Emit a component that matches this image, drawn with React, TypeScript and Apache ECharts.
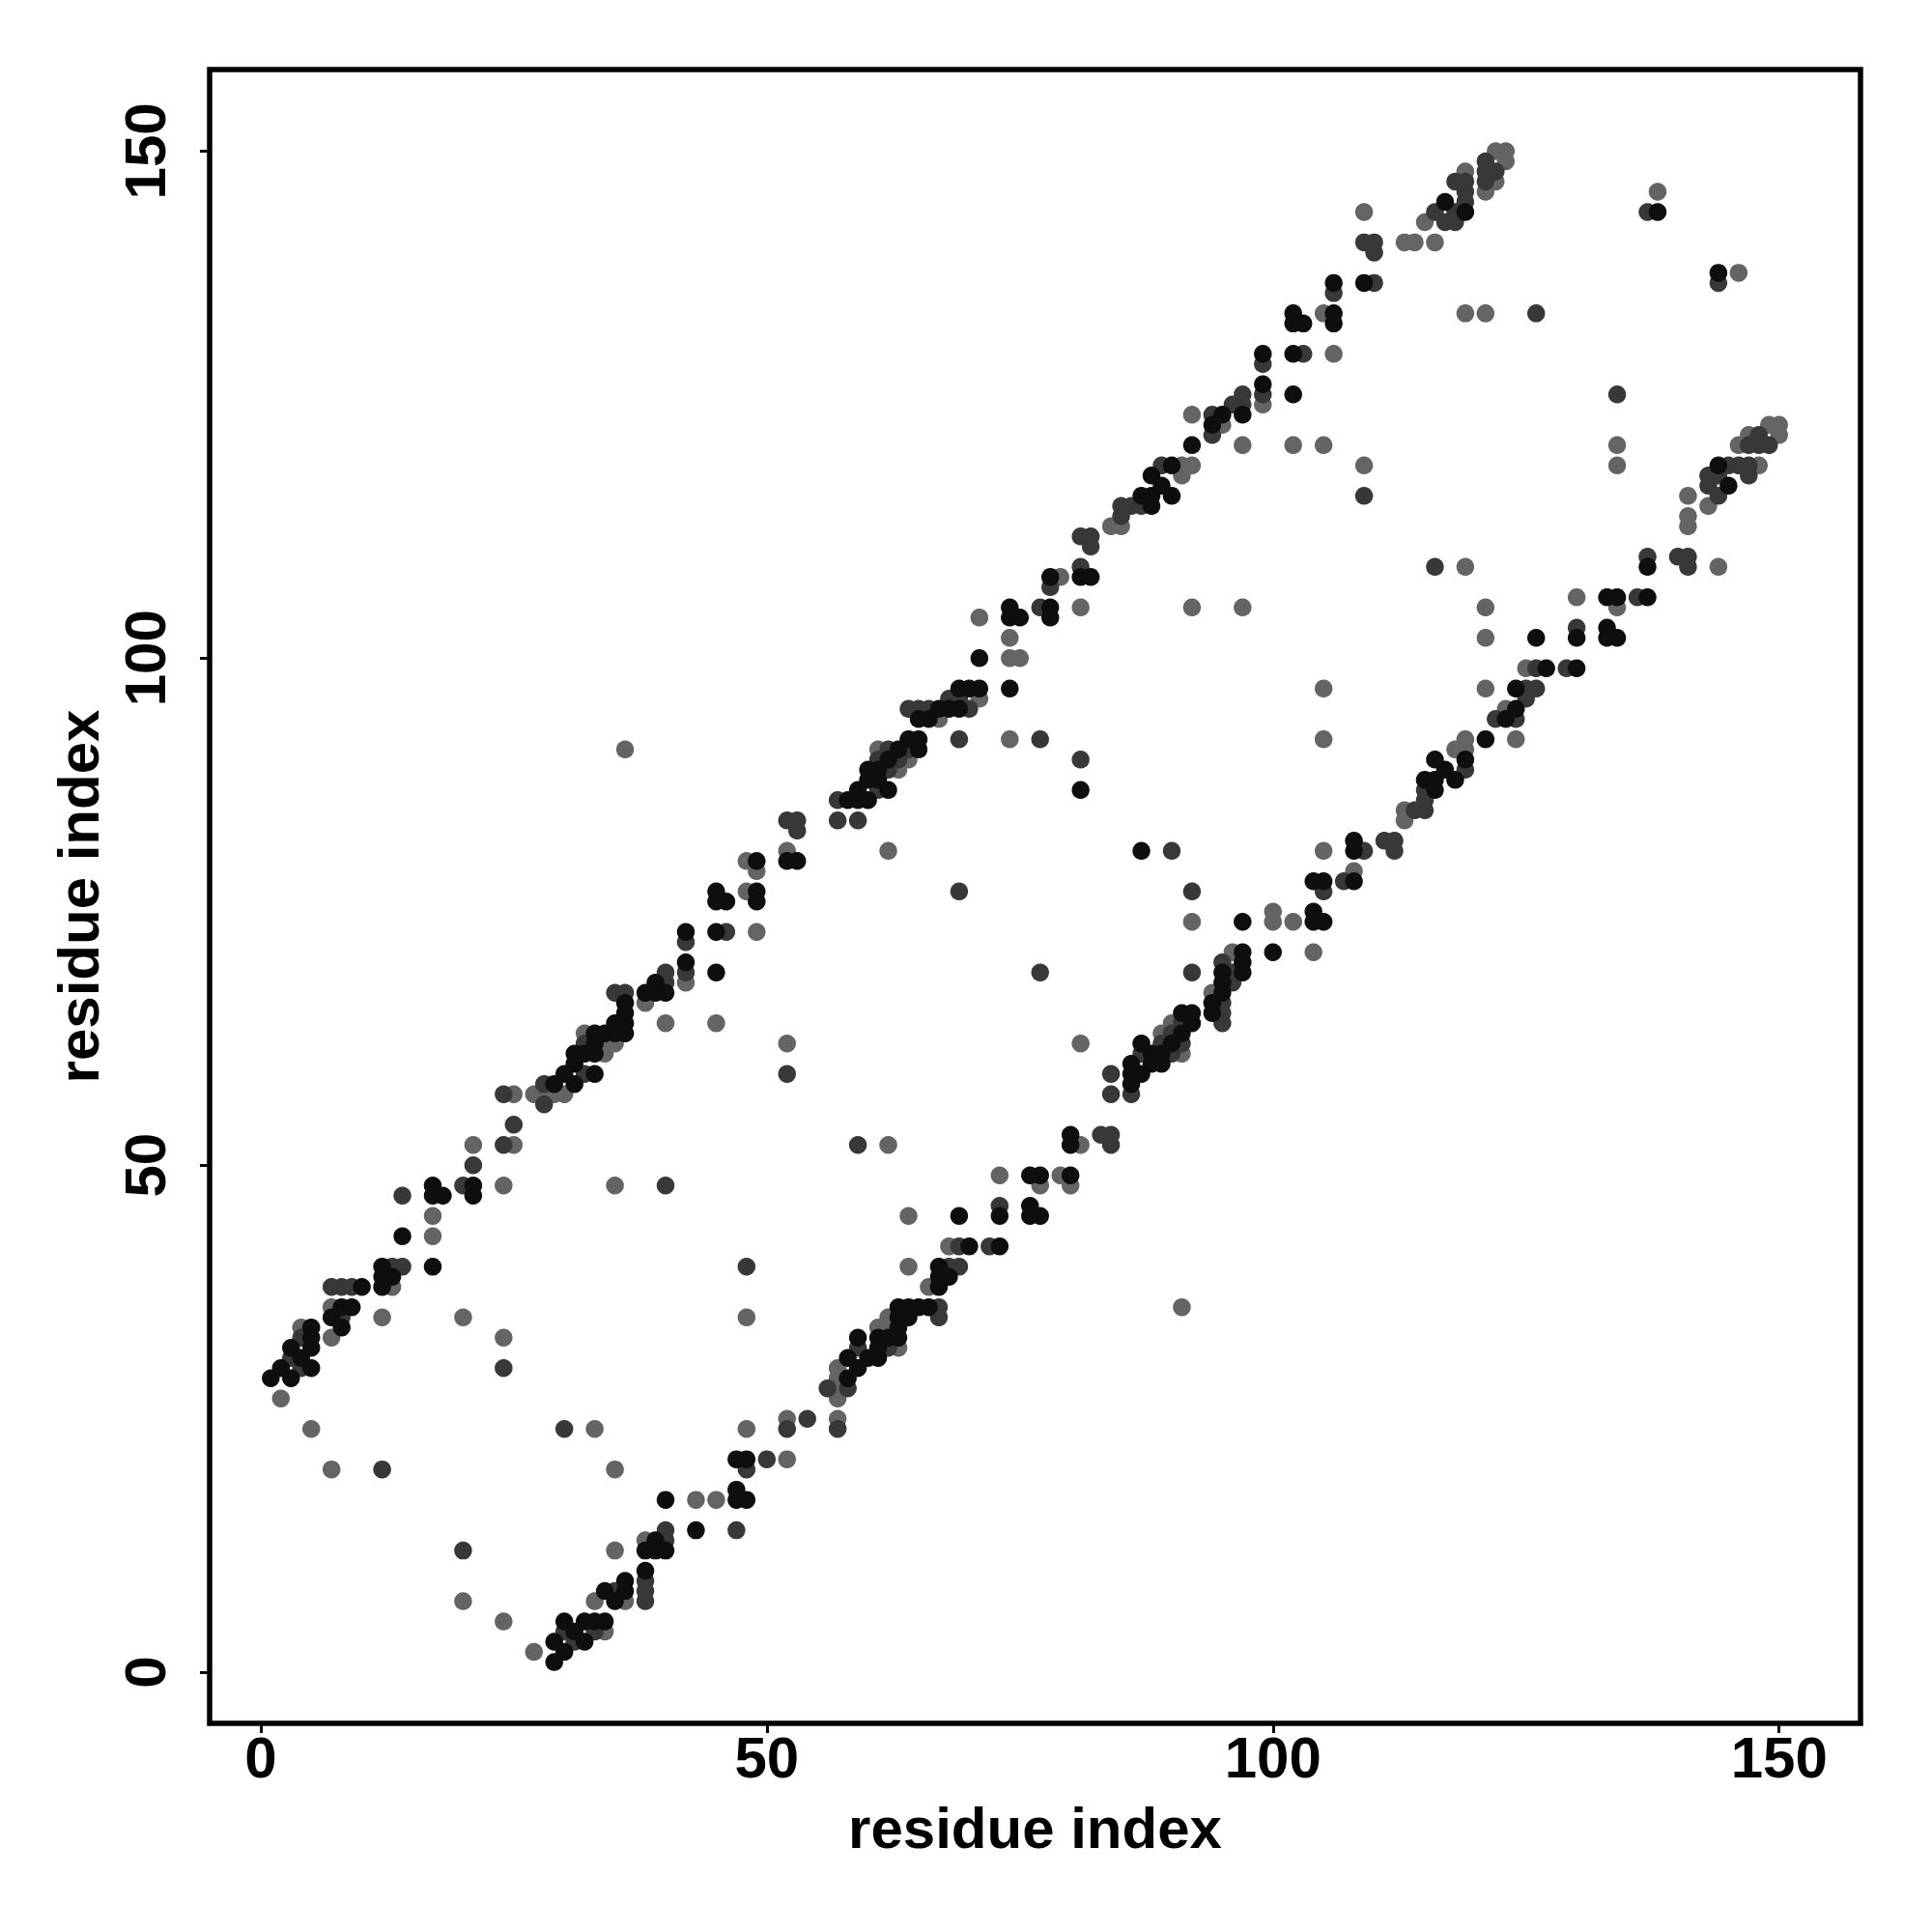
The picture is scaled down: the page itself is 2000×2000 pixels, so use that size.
import React, { useEffect, useRef } from "react";
import * as echarts from "echarts";

const xTicks = [0, 50, 100, 150];
const yTicks = [0, 50, 100, 150];
const xTitle = "residue index";
const yTitle = "residue index";

// contacts above the diagonal (x < y)
const blackUpper = [[1,29],[2,30],[3,29],[3,32],[4,31],[5,30],[5,32],[5,33],[5,34],[7,35],[8,34],[8,36],[9,36],[10,38],[12,38],[12,39],[12,40],[13,39],[14,43],[17,40],[17,47],[17,48],[18,47],[21,47],[21,48],[29,58],[30,59],[31,58],[31,60],[31,61],[32,61],[33,59],[33,61],[33,62],[33,63],[34,63],[35,63],[35,64],[36,63],[36,64],[36,65],[36,66],[38,67],[39,67],[39,68],[40,67],[42,70],[42,73],[45,69],[45,73],[45,76],[45,77],[46,76],[49,76],[49,77],[49,80],[52,80],[53,80],[58,86],[59,86],[59,87],[60,86],[60,88],[60,89],[61,88],[61,89],[62,87],[62,90],[63,91],[64,92],[65,91],[65,92],[65,94],[66,94],[67,95],[68,95],[69,95],[69,97],[70,97],[71,97],[71,100],[74,97],[74,104],[74,105],[75,104],[78,104],[78,105],[78,108],[81,87],[81,108],[82,108],[87,116],[88,115],[88,116],[88,118],[89,117],[90,116],[90,119],[92,121],[94,123],[95,124],[97,124],[99,127],[99,130],[102,126],[102,130],[102,133],[102,134],[103,133],[106,133],[106,134],[106,137],[109,137],[117,145],[119,144],[138,144]];
const darkUpper = [[3,31],[4,30],[4,33],[7,38],[8,35],[8,38],[9,38],[12,20],[13,40],[14,40],[14,47],[20,48],[21,50],[24,30],[24,52],[24,57],[25,54],[28,56],[28,58],[32,59],[32,62],[35,67],[36,67],[40,48],[40,68],[40,69],[42,69],[42,72],[46,73],[52,59],[52,84],[53,83],[53,84],[57,84],[57,86],[59,84],[61,87],[61,90],[62,89],[62,91],[63,90],[64,91],[64,95],[65,95],[66,95],[68,96],[69,77],[69,92],[69,96],[70,95],[77,92],[77,105],[78,107],[81,90],[81,109],[81,112],[82,111],[82,112],[85,114],[85,115],[86,115],[87,115],[89,119],[94,122],[94,124],[96,125],[97,125],[97,126],[99,126],[99,129],[103,130],[106,136],[109,116],[109,141],[110,137],[110,140],[110,141],[116,144],[117,143],[118,143],[118,144],[118,147],[119,145],[119,146],[119,147],[121,147],[121,148],[121,149],[122,148],[126,134],[137,144]];
const grayUpper = [[2,27],[4,34],[5,24],[7,20],[7,33],[7,36],[12,35],[13,38],[17,43],[17,45],[20,35],[21,52],[24,33],[24,48],[25,52],[25,57],[27,57],[28,57],[29,57],[30,57],[32,63],[34,61],[34,62],[35,48],[35,62],[36,91],[38,66],[40,64],[42,68],[45,64],[48,77],[48,80],[49,73],[49,79],[52,62],[52,81],[61,91],[62,81],[63,89],[64,90],[67,94],[71,96],[71,104],[74,92],[74,100],[74,102],[75,100],[79,108],[81,105],[84,113],[85,113],[91,118],[91,119],[92,105],[92,119],[92,124],[95,123],[97,105],[97,121],[99,125],[102,121],[105,121],[105,134],[106,130],[109,119],[109,144],[113,141],[114,141],[115,143],[116,141],[119,134],[119,148],[121,134],[121,146],[122,147],[122,150],[123,149],[123,150],[138,146]];

// contacts below the diagonal (x > y)
const blackLower = [[29,1],[30,2],[29,3],[32,3],[31,4],[30,5],[32,5],[33,5],[34,5],[35,7],[34,8],[36,8],[36,9],[38,10],[38,12],[39,12],[40,12],[39,13],[43,14],[40,17],[47,17],[48,17],[47,18],[47,21],[48,21],[58,29],[59,30],[58,31],[60,31],[61,31],[61,32],[59,33],[61,33],[62,33],[63,33],[63,34],[63,35],[64,35],[63,36],[64,36],[65,36],[66,36],[67,38],[67,39],[68,39],[67,40],[70,42],[73,42],[69,45],[73,45],[76,45],[77,45],[76,46],[76,49],[77,49],[80,49],[80,52],[80,53],[86,58],[86,59],[87,59],[86,60],[88,60],[89,60],[88,61],[89,61],[87,62],[90,62],[91,63],[92,64],[91,65],[92,65],[94,65],[94,66],[95,67],[95,68],[95,69],[97,69],[97,70],[97,71],[100,71],[97,74],[104,74],[105,74],[104,75],[104,78],[105,78],[108,78],[87,81],[108,81],[108,82],[116,87],[115,88],[116,88],[118,88],[117,89],[116,90],[119,90],[121,92],[123,94],[124,95],[124,97],[127,99],[130,99],[126,102],[130,102],[133,102],[134,102],[133,103],[133,106],[134,106],[137,106],[137,109],[145,117],[144,119],[144,138]];
const darkLower = [[31,3],[30,4],[33,4],[38,7],[35,8],[38,8],[38,9],[20,12],[40,13],[40,14],[47,14],[48,20],[50,21],[30,24],[52,24],[57,24],[54,25],[56,28],[58,28],[59,32],[62,32],[67,35],[67,36],[48,40],[68,40],[69,40],[69,42],[72,42],[73,46],[59,52],[84,52],[83,53],[84,53],[84,57],[86,57],[84,59],[87,61],[90,61],[89,62],[91,62],[90,63],[91,64],[95,64],[95,65],[95,66],[96,68],[77,69],[92,69],[96,69],[95,70],[92,77],[105,77],[107,78],[90,81],[109,81],[112,81],[111,82],[112,82],[114,85],[115,85],[115,86],[115,87],[119,89],[122,94],[124,94],[125,96],[125,97],[126,97],[126,99],[129,99],[130,103],[136,106],[116,109],[141,109],[137,110],[140,110],[141,110],[144,116],[143,117],[143,118],[144,118],[147,118],[145,119],[146,119],[147,119],[147,121],[148,121],[149,121],[148,122],[134,126],[144,137]];
const grayLower = [[27,2],[34,4],[24,5],[20,7],[33,7],[36,7],[35,12],[38,13],[43,17],[45,17],[35,20],[52,21],[33,24],[48,24],[52,25],[57,25],[57,27],[57,28],[57,29],[57,30],[63,32],[61,34],[62,34],[48,35],[62,35],[91,36],[66,38],[64,40],[68,42],[64,45],[77,48],[80,48],[73,49],[79,49],[62,52],[81,52],[91,61],[81,62],[89,63],[90,64],[94,67],[96,71],[104,71],[92,74],[100,74],[102,74],[100,75],[108,79],[105,81],[113,84],[113,85],[118,91],[119,91],[105,92],[119,92],[124,92],[123,95],[105,97],[121,97],[125,99],[121,102],[121,105],[134,105],[130,106],[119,109],[144,109],[141,113],[141,114],[143,115],[141,116],[134,119],[148,119],[134,121],[146,121],[147,122],[150,122],[149,123],[150,123],[146,138]];

const FONT = "'Liberation Sans', Arial, Helvetica, sans-serif";

export default function App() {
  const ref = useRef<HTMLDivElement>(null);
  useEffect(() => {
    document.body.style.margin = "0";
    const chart = echarts.init(ref.current as HTMLDivElement, null, { renderer: "svg" });
    const mk = (name: string, data: number[][], color: string) => ({
      type: "scatter",
      name,
      data,
      symbol: "circle",
      symbolSize: 18.5,
      itemStyle: { color, opacity: 1 },
      silent: true,
    });
    const labelStyle = { fontSize: 60, fontWeight: "bold", fontFamily: FONT, color: "#000" };
    chart.setOption({
      animation: false,
      backgroundColor: "#ffffff",
      grid: { left: 217, right: 74, top: 72, bottom: 216, show: true, borderColor: "#000", borderWidth: 5.5, backgroundColor: "transparent" },
      xAxis: {
        type: "value",
        min: -5.04,
        max: 158.04,
        splitLine: { show: false },
        axisLine: { show: false, onZero: false },
        axisTick: { show: true, length: 10, lineStyle: { color: "#000", width: 3 }, customValues: xTicks },
        axisLabel: { ...labelStyle, margin: 5, customValues: xTicks },
        name: xTitle,
        nameLocation: "middle",
        nameGap: 78,
        nameTextStyle: { ...labelStyle },
      },
      yAxis: {
        type: "value",
        min: -5.04,
        max: 158.04,
        splitLine: { show: false },
        axisLine: { show: false, onZero: false },
        axisTick: { show: true, length: 10, lineStyle: { color: "#000", width: 3 }, customValues: yTicks },
        axisLabel: { ...labelStyle, margin: 37, rotate: 90, customValues: yTicks },
        name: yTitle,
        nameLocation: "middle",
        nameRotate: 90,
        nameGap: 106,
        nameTextStyle: { ...labelStyle },
      },
      series: [
        mk("gray-upper", grayUpper, "#646464"),
        mk("gray-lower", grayLower, "#646464"),
        mk("dark-upper", darkUpper, "#383838"),
        mk("dark-lower", darkLower, "#383838"),
        mk("black-upper", blackUpper, "#0e0e0e"),
        mk("black-lower", blackLower, "#0e0e0e"),
      ],
    });
    return () => chart.dispose();
  }, []);
  return <div ref={ref} style={{ width: 2000, height: 2000 }} />;
}
